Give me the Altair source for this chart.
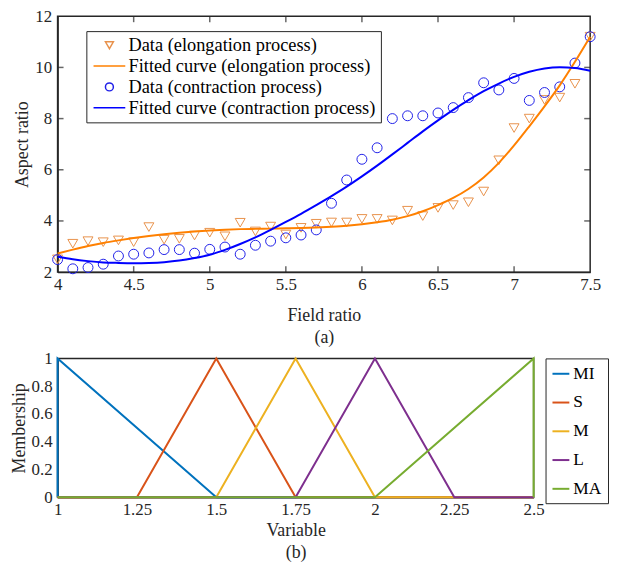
import altair as alt
import pandas as pd

FONT = "Liberation Serif"
INK = "#262626"

# ---------------- (a) aspect ratio vs field ratio ----------------
field_ratio = [4.0, 4.1, 4.2, 4.3, 4.4, 4.5, 4.6, 4.7, 4.8, 4.9,
               5.0, 5.1, 5.2, 5.3, 5.4, 5.5, 5.6, 5.7, 5.8, 5.9,
               6.0, 6.1, 6.2, 6.3, 6.4, 6.5, 6.6, 6.7, 6.8, 6.9,
               7.0, 7.1, 7.2, 7.3, 7.4, 7.5]

elong_data = [2.50, 3.11, 3.21, 3.17, 3.24, 3.17, 3.76, 3.27, 3.30, 3.43,
              3.54, 3.40, 3.93, 3.59, 3.78, 3.47, 3.73, 3.89, 3.94, 3.94,
              4.08, 4.08, 4.02, 4.40, 4.19, 4.51, 4.62, 4.73, 5.15, 6.37,
              7.63, 8.00, 8.73, 8.82, 9.36, 11.20]

contr_data = [2.49, 2.13, 2.18, 2.31, 2.63, 2.70, 2.75, 2.88, 2.88, 2.74,
              2.89, 2.98, 2.70, 3.05, 3.21, 3.34, 3.45, 3.65, 4.69, 5.60,
              6.41, 6.86, 8.00, 8.11, 8.11, 8.22, 8.43, 8.82, 9.40, 9.12,
              9.57, 8.71, 9.02, 9.24, 10.17, 11.20]

elong_fit = [2.73, 2.88, 3.02, 3.14, 3.24, 3.33, 3.41, 3.48, 3.54, 3.59,
             3.63, 3.66, 3.68, 3.69, 3.70, 3.71, 3.72, 3.74, 3.77, 3.81,
             3.87, 3.95, 4.05, 4.19, 4.38, 4.62, 4.90, 5.25, 5.70, 6.27,
             6.95, 7.70, 8.48, 9.30, 10.22, 11.20]

contr_fit = [2.60, 2.50, 2.43, 2.38, 2.36, 2.35, 2.36, 2.39, 2.45, 2.55,
             2.68, 2.87, 3.10, 3.36, 3.65, 3.96, 4.28, 4.62, 4.97, 5.34,
             5.74, 6.16, 6.60, 7.05, 7.50, 7.93, 8.34, 8.72, 9.07, 9.37,
             9.63, 9.83, 9.96, 10.01, 9.98, 9.87]

x_ticks_a = [4, 4.5, 5, 5.5, 6, 6.5, 7, 7.5]
y_ticks_a = [2, 4, 6, 8, 10, 12]
x_inner_a = [4.5, 5, 5.5, 6, 6.5, 7]
y_inner_a = [4, 6, 8, 10]

series_names = ["Data (elongation process)",
                "Fitted curve (elongation process)",
                "Data (contraction process)",
                "Fitted curve (contraction process)"]
series_colors = ["#E8924C", "#FF8000", "#2020E8", "#0000FF"]
series_shapes = ["triangle-down", "M-4,0L4,0", "circle", "M-4,0L4,0"]

n = len(field_ratio)
pts = pd.DataFrame({
    "x": field_ratio + field_ratio,
    "y": elong_data + contr_data,
    "series": [series_names[0]] * n + [series_names[2]] * n,
})
fits = pd.DataFrame({
    "x": field_ratio + field_ratio,
    "y": elong_fit + contr_fit,
    "series": [series_names[1]] * n + [series_names[3]] * n,
})
xt_df = pd.DataFrame({"x": x_inner_a})
yt_df = pd.DataFrame({"y": y_inner_a})

xs_a = alt.Scale(domain=[4, 7.5], nice=False, zero=False)
ys_a = alt.Scale(domain=[2, 12], nice=False, zero=False)
col_a = alt.Scale(domain=series_names, range=series_colors)
shp_a = alt.Scale(domain=series_names, range=series_shapes)

legend_a = alt.Legend(
    orient="none", legendX=29, legendY=15, title=None,
    strokeColor=INK, fillColor="white", padding=5,
    labelFont=FONT, labelFontSize=18.5, labelColor="black", labelLimit=500,
    symbolSize=64, symbolStrokeWidth=1.5, symbolOffset=9, labelOffset=10,
    rowPadding=2,
)

x_a = alt.X("x:Q", scale=xs_a,
            axis=alt.Axis(values=x_ticks_a, labelExpr="datum.value",
                          labelFlush=False, labelOverlap=False,
                          title=["Field ratio", "(a)"], titleLineHeight=22,
                          labelPadding=5, titlePadding=14))
y_a = alt.Y("y:Q", scale=ys_a,
            axis=alt.Axis(values=y_ticks_a, labelExpr="datum.value",
                          labelFlush=False, labelOverlap=False,
                          title="Aspect ratio", labelPadding=6, titlePadding=3))

points_a = alt.Chart(pts).mark_point(filled=False, strokeWidth=1, size=100, opacity=1).encode(
    x=x_a, y=y_a,
    color=alt.Color("series:N", scale=col_a, legend=legend_a),
    shape=alt.Shape("series:N", scale=shp_a, legend=legend_a),
)
lines_a = alt.Chart(fits).mark_line(strokeWidth=2, interpolate="monotone").encode(
    x=x_a, y=y_a,
    color=alt.Color("series:N", scale=col_a, legend=legend_a),
)
# inward tick marks on the four sides of the box
tick_b = alt.Chart(xt_df).mark_tick(orient="vertical", size=6, thickness=1.5,
                                    color=INK, yOffset=-3).encode(
    x=alt.X("x:Q", scale=xs_a), y=alt.datum(2, scale=ys_a))
tick_t = alt.Chart(xt_df).mark_tick(orient="vertical", size=6, thickness=1.5,
                                    color=INK, yOffset=3).encode(
    x=alt.X("x:Q", scale=xs_a), y=alt.datum(12, scale=ys_a))
tick_l = alt.Chart(yt_df).mark_tick(orient="horizontal", size=6, thickness=1.5,
                                    color=INK, xOffset=3).encode(
    y=alt.Y("y:Q", scale=ys_a), x=alt.datum(4, scale=xs_a))
tick_r = alt.Chart(yt_df).mark_tick(orient="horizontal", size=6, thickness=1.5,
                                    color=INK, xOffset=-3).encode(
    y=alt.Y("y:Q", scale=ys_a), x=alt.datum(7.5, scale=xs_a))

chart_a = alt.layer(points_a, lines_a, tick_b, tick_t, tick_l, tick_r).properties(
    width=537, height=258)

# ---------------- (b) membership functions ----------------
mf_names = ["MI", "S", "M", "L", "MA"]
mf_colors = ["#0072BD", "#D95319", "#EDB120", "#7E2F8E", "#77AC30"]
x_ticks_b = [1, 1.25, 1.5, 1.75, 2, 2.25, 2.5]
y_ticks_b = [0, 0.2, 0.4, 0.6, 0.8, 1]
mf_x = {
    "MI": [1, 1, 1.5, 2.5],
    "S": [1, 1.25, 1.5, 1.75, 2.5],
    "M": [1, 1.5, 1.75, 2, 2.5],
    "L": [1, 1.75, 2, 2.25, 2.5],
    "MA": [1, 2, 2.5, 2.5],
}
mf_y = {
    "MI": [0, 1, 0, 0],
    "S": [0, 0, 1, 0, 0],
    "M": [0, 0, 1, 0, 0],
    "L": [0, 0, 1, 0, 0],
    "MA": [0, 0, 1, 0],
}
rows = []
for name in mf_names:
    for i, (xv, yv) in enumerate(zip(mf_x[name], mf_y[name])):
        rows.append({"xb": xv, "yb": yv, "mf": name, "ord": i})
mf = pd.DataFrame(rows)

chart_b = alt.Chart(mf).mark_line(strokeWidth=2).encode(
    x=alt.X("xb:Q", scale=alt.Scale(domain=[1, 2.5], nice=False, zero=False),
            axis=alt.Axis(values=x_ticks_b, labelExpr="datum.value",
                          labelFlush=False, labelOverlap=False,
                          title=["Variable", "(b)"], titleLineHeight=22,
                          labelPadding=4, titlePadding=5)),
    y=alt.Y("yb:Q", scale=alt.Scale(domain=[0, 1], nice=False, zero=False),
            axis=alt.Axis(values=y_ticks_b, labelExpr="datum.value",
                          labelFlush=False, labelOverlap=False,
                          title="Membership", labelPadding=5.5, titlePadding=3)),
    color=alt.Color("mf:N", scale=alt.Scale(domain=mf_names, range=mf_colors),
                    legend=alt.Legend(orient="right", offset=8, title=None,
                                      strokeColor=INK, fillColor="white", padding=6,
                                      rowPadding=11, symbolType="stroke", symbolSize=289,
                                      symbolStrokeWidth=2, labelFont=FONT,
                                      labelFontSize=17.5, labelColor="black",
                                      labelOffset=3)),
    order=alt.Order("ord:Q"),
).properties(width=480, height=140)

chart = alt.vconcat(chart_a, chart_b, spacing=1).resolve_scale(
    color="independent", shape="independent", x="independent", y="independent"
).resolve_legend(
    color="independent", shape="independent"
).properties(
    padding={"left": 1, "top": -4, "right": 0, "bottom": 0}
).configure_view(
    stroke=INK, strokeWidth=1.5
).configure_axis(
    labelFont=FONT, titleFont=FONT, labelFontSize=17, titleFontSize=18,
    labelColor=INK, titleColor=INK, titleFontWeight="normal",
    domainColor=INK, domainWidth=1.5, ticks=False, grid=False,
)

chart.save("out.html", embed_options={"renderer": "svg", "actions": False})
